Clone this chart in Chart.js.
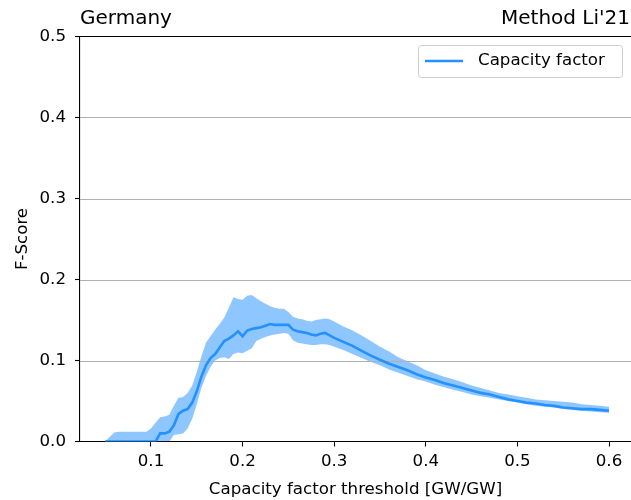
<!DOCTYPE html>
<html>
<head>
<meta charset="utf-8">
<script src="https://cdn.jsdelivr.net/npm/chart.js@4/dist/chart.umd.min.js"></script>
<style>
  html, body { margin: 0; padding: 0; background: #ffffff; }
  canvas { display: block; }
</style>
</head>
<body>
<canvas id="chart" width="631" height="500"></canvas>
<script>
// Capacity factor threshold [GW/GW]
const thresholds = [
  0.050, 0.055, 0.060, 0.065, 0.070, 0.075, 0.080, 0.085, 0.090, 0.095,
  0.100, 0.105, 0.110, 0.115, 0.120, 0.125, 0.130, 0.135, 0.140, 0.145,
  0.150, 0.155, 0.160, 0.165, 0.170, 0.175, 0.180, 0.185, 0.190, 0.195,
  0.200, 0.205, 0.210, 0.215, 0.220, 0.225, 0.230, 0.235, 0.240, 0.245,
  0.250, 0.255, 0.260, 0.265, 0.270, 0.275, 0.280, 0.285, 0.290, 0.295,
  0.300, 0.31, 0.32, 0.33, 0.34, 0.35, 0.36, 0.37, 0.38, 0.39,
  0.40, 0.41, 0.42, 0.43, 0.44, 0.45, 0.46, 0.47, 0.48, 0.49,
  0.50, 0.51, 0.52, 0.53, 0.54, 0.55, 0.56, 0.57, 0.58, 0.59, 0.60
];

// mean F-score
const fMean = [
  0.000, 0.000, 0.000, 0.000, 0.000, 0.000, 0.000, 0.000, 0.000, 0.000,
  0.000, 0.000, 0.010, 0.010, 0.012, 0.020, 0.034, 0.038, 0.040, 0.048,
  0.062, 0.080, 0.094, 0.103, 0.108, 0.116, 0.124, 0.127, 0.131, 0.136,
  0.130, 0.137, 0.139, 0.140, 0.141, 0.143, 0.145, 0.144, 0.144, 0.144,
  0.144, 0.138, 0.136, 0.135, 0.134, 0.132, 0.131, 0.133, 0.134, 0.131,
  0.128, 0.123, 0.118, 0.112, 0.106, 0.101, 0.096, 0.092, 0.088, 0.083,
  0.079, 0.076, 0.072, 0.069, 0.066, 0.063, 0.060, 0.058, 0.055, 0.052,
  0.050, 0.048, 0.047, 0.045, 0.044, 0.042, 0.041, 0.040, 0.040, 0.039, 0.038
];

// upper edge of the spread
const fHigh = [
  0.000, 0.006, 0.011, 0.012, 0.012, 0.012, 0.012, 0.012, 0.012, 0.012,
  0.016, 0.023, 0.030, 0.031, 0.033, 0.044, 0.054, 0.055, 0.060, 0.069,
  0.086, 0.105, 0.122, 0.130, 0.138, 0.145, 0.153, 0.165, 0.178, 0.176,
  0.175, 0.180, 0.181, 0.177, 0.173, 0.170, 0.167, 0.165, 0.164, 0.164,
  0.160, 0.154, 0.152, 0.151, 0.149, 0.148, 0.150, 0.151, 0.152, 0.151,
  0.148, 0.142, 0.137, 0.131, 0.124, 0.117, 0.111, 0.104, 0.099, 0.094,
  0.088, 0.084, 0.080, 0.077, 0.073, 0.069, 0.066, 0.063, 0.060, 0.058,
  0.056, 0.054, 0.052, 0.051, 0.050, 0.049, 0.048, 0.046, 0.045, 0.044, 0.043
];

// lower edge of the spread
const fLow = [
  0.000, 0.000, 0.000, 0.000, 0.000, 0.000, 0.000, 0.000, 0.000, 0.000,
  0.000, 0.000, 0.000, 0.000, 0.000, 0.008, 0.009, 0.010, 0.016, 0.028,
  0.046, 0.066, 0.081, 0.092, 0.100, 0.103, 0.104, 0.102, 0.108, 0.110,
  0.109, 0.112, 0.115, 0.124, 0.127, 0.129, 0.131, 0.132, 0.133, 0.134,
  0.133, 0.125, 0.122, 0.121, 0.120, 0.119, 0.119, 0.120, 0.120, 0.119,
  0.117, 0.113, 0.108, 0.103, 0.098, 0.094, 0.089, 0.085, 0.081, 0.077,
  0.074, 0.070, 0.067, 0.064, 0.061, 0.058, 0.056, 0.054, 0.052, 0.050,
  0.048, 0.046, 0.044, 0.043, 0.042, 0.040, 0.039, 0.038, 0.037, 0.036, 0.0355
];

const xTicks = [0.1, 0.2, 0.3, 0.4, 0.5, 0.6];
const yTicks = [0.0, 0.1, 0.2, 0.3, 0.4, 0.5];

const seriesLabel = 'Capacity factor';
const leftTitle = 'Germany';
const rightTitle = "Method Li'21";

const FONT = '"DejaVu Sans", sans-serif';
const LINE_COLOR = 'rgb(36,145,255)';
const BAND_COLOR = 'rgba(30,144,255,0.5)';
const GRID_COLOR = '#b0b0b0';

const toPoints = ys => thresholds.map((x, i) => ({ x: x, y: ys[i] }));

// Horizontal grid is painted right after the band, so it sits above the
// shaded area but below the mean line.
const gridOverBand = {
  id: 'gridOverBand',
  afterDatasetDraw(chart, args) {
    if (args.index !== 1) return;
    const { ctx, chartArea } = chart;
    const y = chart.scales.y;
    ctx.save();
    ctx.strokeStyle = GRID_COLOR;
    ctx.lineWidth = 1.1;
    yTicks.forEach(v => {
      if (v <= y.min || v >= y.max) return;
      const py = Math.round(y.getPixelForValue(v)) + 0.5;
      ctx.beginPath();
      ctx.moveTo(chartArea.left, py);
      ctx.lineTo(chartArea.right, py);
      ctx.stroke();
    });
    ctx.restore();
  }
};

// Frame top, corner titles and the legend box.
const decorations = {
  id: 'decorations',
  afterDraw(chart) {
    const { ctx, chartArea } = chart;
    ctx.save();
    // top spine
    ctx.strokeStyle = '#000000';
    ctx.lineWidth = 1.1;
    ctx.beginPath();
    ctx.moveTo(chartArea.left, chartArea.top);
    ctx.lineTo(chart.width, chartArea.top);
    ctx.stroke();

    // titles
    ctx.fillStyle = '#000000';
    ctx.font = '20px ' + FONT;
    ctx.textBaseline = 'alphabetic';
    ctx.textAlign = 'left';
    ctx.fillText(leftTitle, chartArea.left, 24);
    ctx.textAlign = 'right';
    ctx.fillText(rightTitle, chart.width - 1, 24);

    // legend
    const bx = 418.5, by = 45.5, bw = 204, bh = 32, r = 3;
    ctx.beginPath();
    ctx.moveTo(bx + r, by);
    ctx.lineTo(bx + bw - r, by);
    ctx.arcTo(bx + bw, by, bx + bw, by + r, r);
    ctx.lineTo(bx + bw, by + bh - r);
    ctx.arcTo(bx + bw, by + bh, bx + bw - r, by + bh, r);
    ctx.lineTo(bx + r, by + bh);
    ctx.arcTo(bx, by + bh, bx, by + bh - r, r);
    ctx.lineTo(bx, by + r);
    ctx.arcTo(bx, by, bx + r, by, r);
    ctx.closePath();
    ctx.fillStyle = 'rgba(255,255,255,0.8)';
    ctx.fill();
    ctx.strokeStyle = '#cccccc';
    ctx.lineWidth = 1;
    ctx.stroke();

    const ds = chart.data.datasets[0];
    ctx.strokeStyle = ds.borderColor;
    ctx.lineWidth = ds.borderWidth;
    ctx.beginPath();
    ctx.moveTo(425, 61);
    ctx.lineTo(463, 61);
    ctx.stroke();

    ctx.fillStyle = '#000000';
    ctx.font = '16.67px ' + FONT;
    ctx.textAlign = 'left';
    ctx.textBaseline = 'middle';
    ctx.fillText(ds.label, 478, 61);
    ctx.restore();
  }
};

new Chart(document.getElementById('chart'), {
  type: 'line',
  data: {
    datasets: [
      {
        label: seriesLabel,
        data: toPoints(fMean),
        borderColor: LINE_COLOR,
        borderWidth: 2.6,
        pointRadius: 0,
        fill: false,
        tension: 0,
        order: 0
      },
      {
        label: 'upper',
        data: toPoints(fHigh),
        borderColor: 'rgba(0,0,0,0)',
        borderWidth: 0,
        backgroundColor: BAND_COLOR,
        pointRadius: 0,
        fill: '+1',
        tension: 0,
        order: 1
      },
      {
        label: 'lower',
        data: toPoints(fLow),
        borderColor: 'rgba(0,0,0,0)',
        borderWidth: 0,
        pointRadius: 0,
        fill: false,
        tension: 0,
        order: 2
      }
    ]
  },
  options: {
    responsive: false,
    animation: false,
    devicePixelRatio: 1,
    layout: { padding: { left: 0, right: 0, top: 36.5, bottom: 0 } },
    plugins: {
      legend: { display: false },
      tooltip: { enabled: false },
      title: { display: false }
    },
    scales: {
      x: {
        type: 'linear',
        min: 0.0225,
        max: 0.624,
        afterBuildTicks: s => { s.ticks = xTicks.map(v => ({ value: v })); },
        afterFit: s => { s.height = 58.5; },
        ticks: {
          callback: v => v.toFixed(1),
          color: '#000000',
          font: { family: FONT, size: 16.67 },
          padding: 5,
          maxRotation: 0,
          autoSkip: false
        },
        grid: {
          drawOnChartArea: false,
          drawTicks: true,
          tickLength: 5,
          tickColor: '#000000',
          tickWidth: 1.1
        },
        border: { color: '#000000', width: 1.1 },
        title: {
          display: true,
          text: 'Capacity factor threshold [GW/GW]',
          color: '#000000',
          font: { family: FONT, size: 16.67 },
          padding: { top: 0, bottom: 0 }
        }
      },
      y: {
        type: 'linear',
        min: 0,
        max: 0.5,
        afterBuildTicks: s => { s.ticks = yTicks.map(v => ({ value: v })); },
        afterFit: s => { s.width = 80; },
        ticks: {
          callback: v => v.toFixed(1),
          color: '#000000',
          font: { family: FONT, size: 16.67 },
          padding: 9
        },
        grid: {
          drawOnChartArea: false,
          drawTicks: true,
          tickLength: 5,
          tickColor: '#000000',
          tickWidth: 1.1
        },
        border: { color: '#000000', width: 1.1 },
        title: {
          display: true,
          text: 'F-Score',
          color: '#000000',
          font: { family: FONT, size: 16.67 },
          padding: { top: 13, bottom: 0 }
        }
      }
    }
  },
  plugins: [gridOverBand, decorations]
});
</script>
</body>
</html>
